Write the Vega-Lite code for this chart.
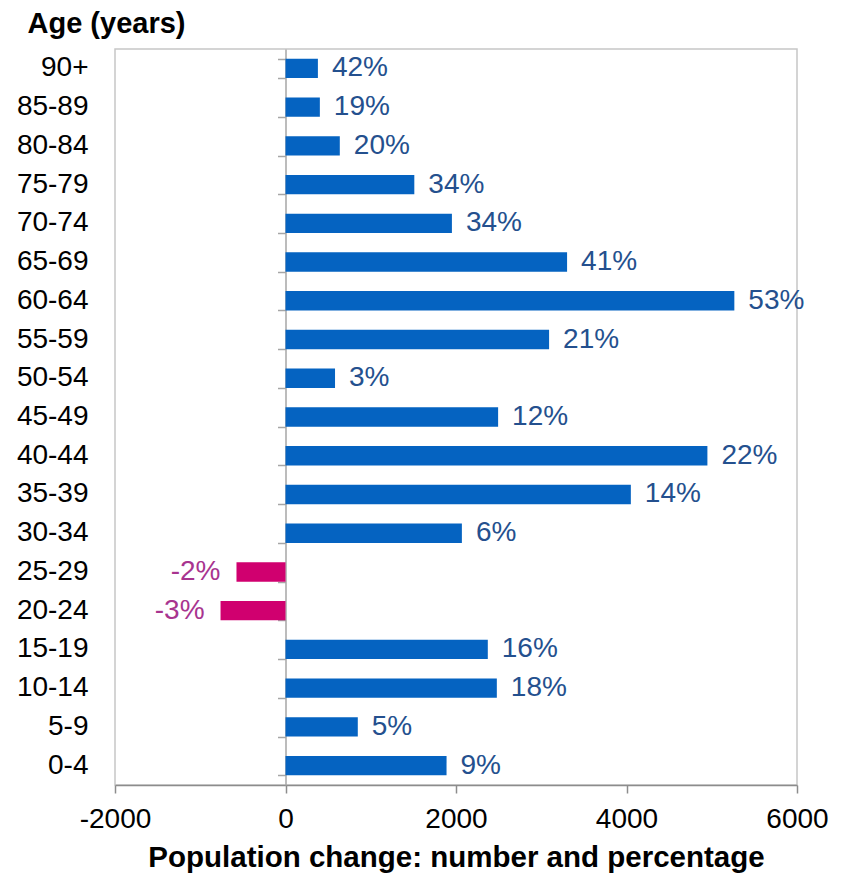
{
  "$schema": "https://vega.github.io/schema/vega-lite/v6.json",
  "autosize": {"type": "none"},
  "padding": {"left": 115, "top": 49, "right": 44, "bottom": 89},
  "width": 682,
  "height": 736,
  "config": {
    "font": "Liberation Sans",
    "view": {"stroke": "#C6C6C6", "strokeWidth": 1.5},
    "axis": {"grid": false}
  },
  "data": {
    "values": [
      {"age": "90+", "value": 380, "pct": "42%"},
      {"age": "85-89", "value": 403, "pct": "19%"},
      {"age": "80-84", "value": 637, "pct": "20%"},
      {"age": "75-79", "value": 1511, "pct": "34%"},
      {"age": "70-74", "value": 1952, "pct": "34%"},
      {"age": "65-69", "value": 3303, "pct": "41%"},
      {"age": "60-64", "value": 5265, "pct": "53%"},
      {"age": "55-59", "value": 3092, "pct": "21%"},
      {"age": "50-54", "value": 581, "pct": "3%"},
      {"age": "45-49", "value": 2494, "pct": "12%"},
      {"age": "40-44", "value": 4949, "pct": "22%"},
      {"age": "35-39", "value": 4051, "pct": "14%"},
      {"age": "30-34", "value": 2069, "pct": "6%"},
      {"age": "25-29", "value": -575, "pct": "-2%"},
      {"age": "20-24", "value": -762, "pct": "-3%"},
      {"age": "15-19", "value": 2373, "pct": "16%"},
      {"age": "10-14", "value": 2479, "pct": "18%"},
      {"age": "5-9", "value": 848, "pct": "5%"},
      {"age": "0-4", "value": 1889, "pct": "9%"}
    ]
  },
  "resolve": {"axis": {"y": "independent"}},
  "layer": [
    {
      "mark": {"type": "bar"},
      "encoding": {
        "y": {
          "field": "age", "type": "nominal", "sort": null,
          "scale": {"paddingInner": 0.5, "paddingOuter": 0.25},
          "axis": {
            "orient": "left", "ticks": false, "domain": false,
            "labelFontSize": 28, "labelColor": "#000000", "labelPadding": 27,
            "title": "Age (years)", "titleAngle": 0, "titleAlign": "left",
            "titleBaseline": "alphabetic", "titleX": -88, "titleY": -17,
            "titleFontSize": 29, "titleFontWeight": "bold", "titleColor": "#000000"
          }
        },
        "x": {
          "field": "value", "type": "quantitative",
          "scale": {"domain": [-2000, 6000], "nice": false, "zero": false},
          "axis": {
            "values": [-2000, 0, 2000, 4000, 6000],
            "labelExpr": "datum.value + ''",
            "domainColor": "#8C8C8C", "domainWidth": 1.5,
            "tickColor": "#8C8C8C", "tickSize": 8, "tickWidth": 1.5,
            "labelFontSize": 28, "labelColor": "#000000", "labelPadding": 12,
            "labelFlush": false,
            "title": "Population change: number and percentage",
            "titleFontSize": 29.5, "titleFontWeight": "bold", "titleColor": "#000000",
            "titleBaseline": "alphabetic", "titleY": 81
          }
        },
        "color": {
          "condition": {"test": "datum.value < 0", "value": "#D0006F"},
          "value": "#0563C1"
        }
      }
    },
    {
      "transform": [{"filter": "datum.value >= 0"}],
      "mark": {"type": "text", "align": "left", "baseline": "middle", "dx": 14, "fontSize": 28, "color": "#24508E"},
      "encoding": {
        "y": {
          "field": "age", "type": "nominal", "sort": null,
          "axis": {
            "orient": "left", "offset": -170.5, "labels": false, "title": null,
            "domain": true, "domainColor": "#A6A6A6", "domainWidth": 1.5,
            "ticks": true, "tickBand": "extent", "tickSize": 8, "tickColor": "#A6A6A6", "tickWidth": 1.5
          }
        },
        "x": {"field": "value", "type": "quantitative"},
        "text": {"field": "pct"}
      }
    },
    {
      "transform": [{"filter": "datum.value < 0"}],
      "mark": {"type": "text", "align": "right", "baseline": "middle", "dx": -16, "fontSize": 28, "color": "#A8348F"},
      "encoding": {
        "y": {"field": "age", "type": "nominal", "sort": null, "axis": null},
        "x": {"field": "value", "type": "quantitative"},
        "text": {"field": "pct"}
      }
    }
  ]
}
